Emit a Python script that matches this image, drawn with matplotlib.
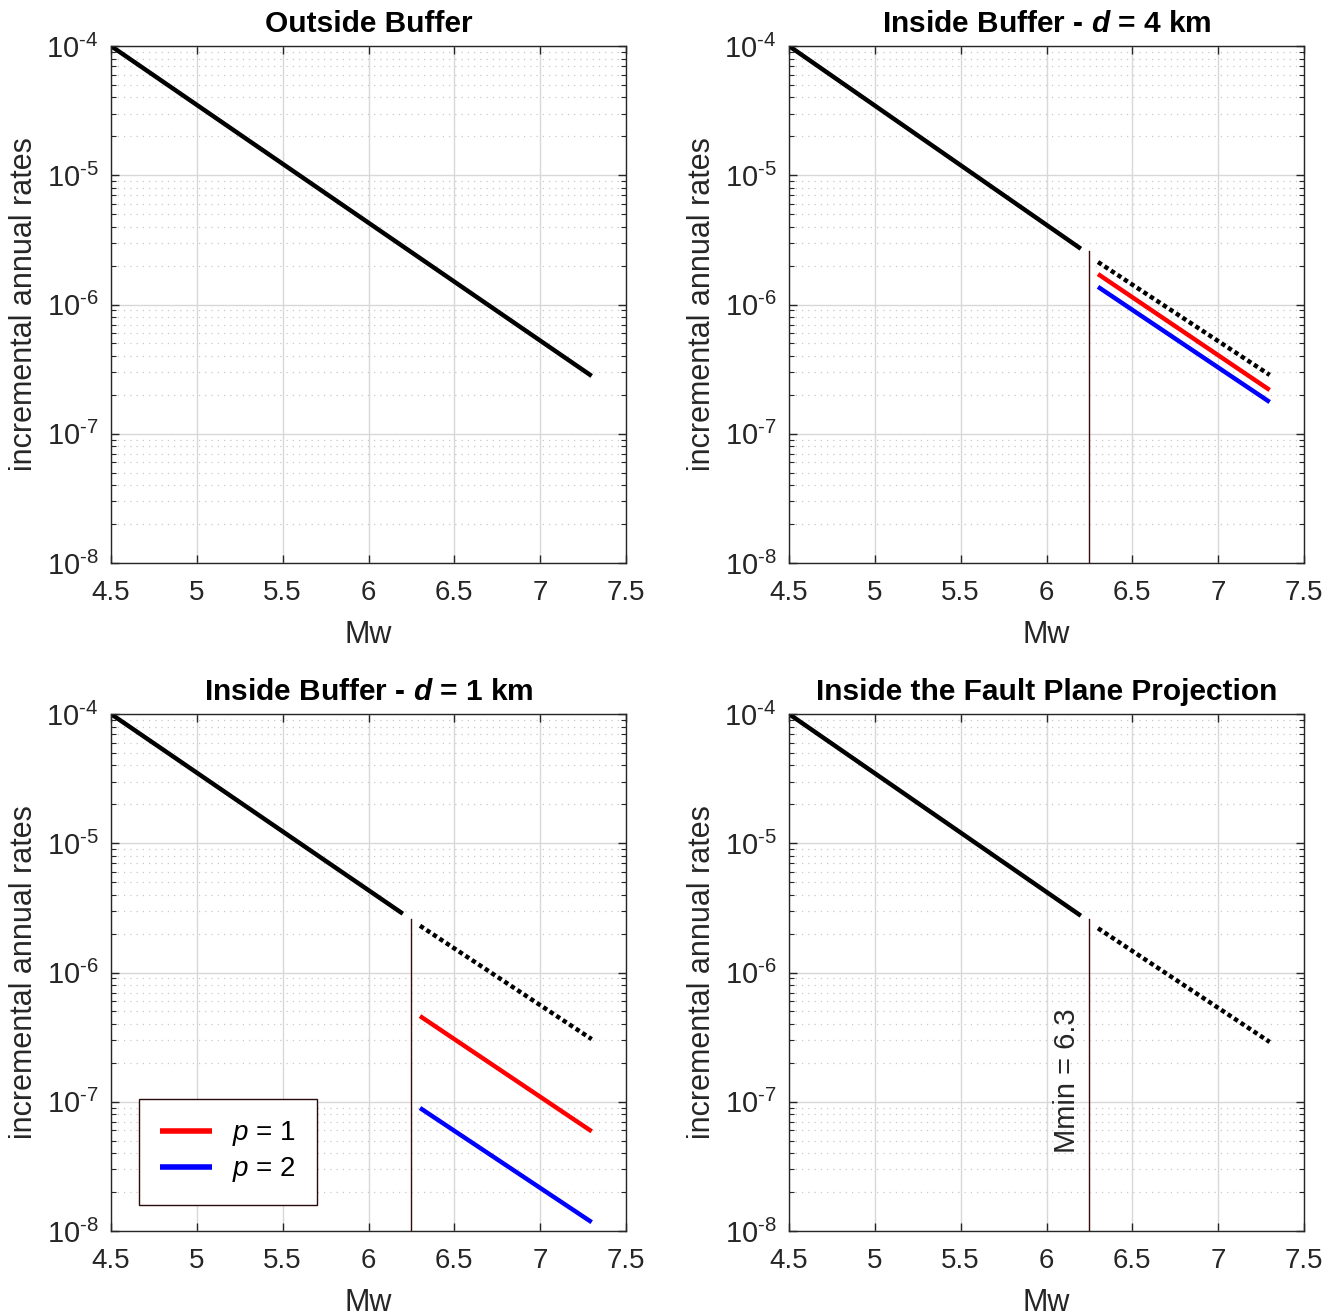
import matplotlib
matplotlib.use("Agg")
import matplotlib.pyplot as plt
from matplotlib.ticker import LogLocator, FixedLocator, NullFormatter, FuncFormatter
import numpy as np

plt.rcParams['font.family'] = ['Liberation Sans', 'DejaVu Sans']
plt.rcParams['mathtext.fontset'] = 'custom'
plt.rcParams['mathtext.rm'] = 'Liberation Sans'
plt.rcParams['mathtext.it'] = 'Liberation Sans:italic'
plt.rcParams['mathtext.bf'] = 'Liberation Sans:bold'
plt.rcParams['mathtext.bfit'] = 'Liberation Sans:italic:bold'

# ---- data ----
titles = ["Outside Buffer",
          r"Inside Buffer - $\mathbfit{d}$ = 4 km",
          r"Inside Buffer - $\mathbfit{d}$ = 1 km",
          "Inside the Fault Plane Projection"]

mw_full = [4.5, 7.3]
rate_full = [1.0e-4, 2.8e-7]

mw_low = [4.5, 6.2]
mw_high = [6.3, 7.3]
mmin = 6.25

# top-right (d = 4 km)
rate_low_d4 = [1.0e-4, 2.70e-6]
rate_dot_d4 = [2.13e-6, 2.85e-7]
rate_p1_d4 = [1.72e-6, 2.18e-7]
rate_p2_d4 = [1.37e-6, 1.76e-7]

# bottom-left (d = 1 km)
rate_low_d1 = [1.0e-4, 2.85e-6]
rate_dot_d1 = [2.30e-6, 3.05e-7]
rate_p1_d1 = [4.6e-7, 5.9e-8]
rate_p2_d1 = [8.95e-8, 1.17e-8]

# bottom-right (fault plane)
rate_low_fp = [1.0e-4, 2.75e-6]
rate_dot_fp = [2.2e-6, 2.9e-7]

vline_top = [2.6e-6, 2.6e-6, 2.6e-6]

xticks = [4.5, 5, 5.5, 6, 6.5, 7, 7.5]
xticklabels = ["4.5", "5", "5.5", "6", "6.5", "7", "7.5"]
legend_labels = ["$p$ = 1", "$p$ = 2"]

# ---- figure ----
W, H = 1338, 1314
fig = plt.figure(figsize=(W / 100, H / 100), dpi=100)

def frac(x0, top, x1, bottom):
    return [x0 / W, 1 - bottom / H, (x1 - x0) / W, (bottom - top) / H]

axes = [fig.add_axes(frac(111, 46, 626, 563)),
        fig.add_axes(frac(789, 46, 1304, 563)),
        fig.add_axes(frac(111, 714, 626, 1231)),
        fig.add_axes(frac(789, 714, 1304, 1231))]

LW = 3.2
DOT = (0, (1.0, 0.75))
VCOL = '#3a0a0a'
TXT = '#262626'

def yfmt(v, pos):
    e = int(round(np.log10(v)))
    return r'$10^{\text{%d}}$' % e

for ax, t in zip(axes, titles):
    ax.set_yscale('log')
    ax.set_xlim(4.5, 7.5)
    ax.set_ylim(1e-8, 1e-4)
    ax.xaxis.set_major_locator(FixedLocator(xticks))
    ax.set_xticklabels(xticklabels)
    ax.yaxis.set_major_locator(LogLocator(base=10, numticks=10))
    ax.yaxis.set_major_formatter(FuncFormatter(yfmt))
    ax.yaxis.set_minor_locator(LogLocator(base=10, subs=range(2, 10), numticks=20))
    ax.yaxis.set_minor_formatter(NullFormatter())
    ax.grid(True, which='major', color='#d8d8d8', linewidth=1.0, linestyle='-')
    ax.grid(True, which='minor', axis='y', color='#c8c8c8', linewidth=0.9, linestyle=(0, (1, 4)))
    ax.set_axisbelow(True)
    ax.tick_params(which='both', direction='in', top=True, right=True,
                   color=TXT, labelcolor=TXT)
    ax.tick_params(axis='x', which='major', labelsize=20, pad=12)
    ax.tick_params(axis='y', which='major', labelsize=21, pad=9)
    ax.tick_params(which='major', length=6, width=1)
    ax.tick_params(which='minor', length=3.5, width=0.8)
    for s in ax.spines.values():
        s.set_color(TXT)
        s.set_linewidth(1.0)
    ax.set_xlabel('Mw', fontsize=22, color=TXT, labelpad=10)
    ax.set_ylabel('incremental annual rates', fontsize=22, color=TXT, labelpad=5)
    ax.set_title(t, fontsize=21.5, fontweight='bold', pad=10)

# panel 1
axes[0].plot(mw_full, rate_full, color='k', lw=LW, solid_capstyle='butt')

# panel 2
ax = axes[1]
ax.plot(mw_low, rate_low_d4, color='k', lw=LW, solid_capstyle='butt')
ax.plot([mmin, mmin], [1e-8, vline_top[0]], color=VCOL, lw=1.0)
ax.plot(mw_high, rate_dot_d4, color='k', lw=LW, linestyle=DOT, dash_capstyle='butt')
ax.plot(mw_high, rate_p1_d4, color='#ff0000', lw=LW, solid_capstyle='butt')
ax.plot(mw_high, rate_p2_d4, color='#0000ff', lw=LW, solid_capstyle='butt')

# panel 3
ax = axes[2]
ax.plot(mw_low, rate_low_d1, color='k', lw=LW, solid_capstyle='butt')
ax.plot([mmin, mmin], [1e-8, vline_top[1]], color=VCOL, lw=1.0)
ax.plot(mw_high, rate_dot_d1, color='k', lw=LW, linestyle=DOT, dash_capstyle='butt')
l1, = ax.plot(mw_high, rate_p1_d1, color='#ff0000', lw=LW, solid_capstyle='butt', label=legend_labels[0])
l2, = ax.plot(mw_high, rate_p2_d1, color='#0000ff', lw=LW, solid_capstyle='butt', label=legend_labels[1])
leg = ax.legend(handles=[l1, l2], loc='lower left', bbox_to_anchor=(0.054, 0.05),
                borderaxespad=0, fancybox=False, framealpha=1, edgecolor='#2a0a0a',
                fontsize=20, handlelength=1.9, handletextpad=0.7, borderpad=0.75,
                labelspacing=0.25)
leg.get_frame().set_linewidth(1.0)
for h in leg.legend_handles:
    h.set_linewidth(4)

# panel 4
ax = axes[3]
ax.plot(mw_low, rate_low_fp, color='k', lw=LW, solid_capstyle='butt')
ax.plot([mmin, mmin], [1e-8, vline_top[2]], color=VCOL, lw=1.0)
ax.plot(mw_high, rate_dot_fp, color='k', lw=LW, linestyle=DOT, dash_capstyle='butt')
ax.text(6.12, 1.45e-7, 'Mmin = 6.3', rotation=90, ha='center', va='center',
        fontsize=21, color=TXT)

fig.savefig('out.png', dpi=100)
